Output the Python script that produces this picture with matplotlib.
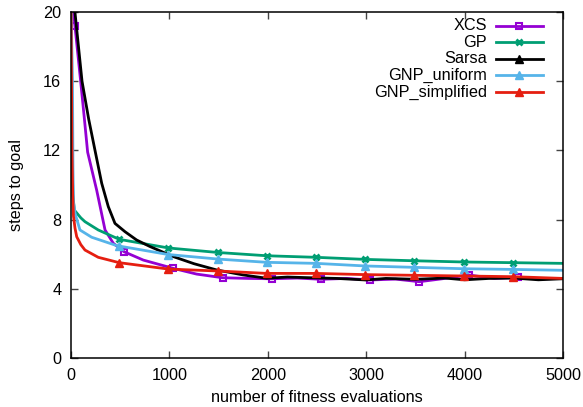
import matplotlib

matplotlib.use("Agg")
import matplotlib.pyplot as plt
from matplotlib.lines import Line2D

plt.rcParams["font.family"] = ["Liberation Sans", "DejaVu Sans"]
plt.rcParams["font.size"] = 11.7

# data
xcs_x = [0, 40, 98, 133, 169, 261, 346, 430, 540, 735, 1040, 1277, 1540, 1800, 2040,
         2300, 2540, 2800, 3040, 3300, 3540, 3800, 4040, 4300, 4540, 4800, 5000]
xcs_y = [21.5, 19.2, 16.0, 14.0, 11.9, 9.7, 7.4, 6.63, 6.14, 5.66, 5.18, 4.85, 4.64, 4.60, 4.58,
         4.62, 4.55, 4.60, 4.51, 4.56, 4.41, 4.60, 4.80, 4.60, 4.66, 4.58, 4.60]
xcs_marks = [40, 540, 1040, 1540, 2040, 2540, 3040, 3540, 4040, 4540]

gp_x = [0, 5, 10, 20, 34, 100, 142, 277, 490, 990, 1490, 1990, 2490, 2990, 3490, 3990, 4490, 5000]
gp_y = [20.5, 15.0, 11.5, 9.4, 8.55, 8.1, 7.88, 7.4, 6.86, 6.36, 6.10, 5.91, 5.82, 5.70, 5.62, 5.55, 5.51, 5.47]

sarsa_x = [0, 40, 112, 180, 244, 312, 379, 447, 549, 667, 800, 1040, 1250, 1480, 1750, 1988, 2200,
           2429, 2700, 2995, 3200, 3500, 3800, 4000, 4250, 4500, 4750, 5000]
sarsa_y = [22.2, 20.0, 16.0, 13.8, 12.0, 10.1, 8.75, 7.78, 7.30, 6.82, 6.45, 5.86, 5.45, 5.09, 4.80, 4.61, 4.68,
           4.64, 4.60, 4.51, 4.60, 4.55, 4.62, 4.52, 4.60, 4.62, 4.52, 4.58]

uni_x = [0, 15, 20, 25, 41, 91, 210, 447, 490, 990, 1490, 1990, 2490, 2990, 3490, 3990, 4490, 5000]
uni_y = [20.5, 16.0, 11.0, 9.0, 8.36, 7.4, 6.98, 6.53, 6.47, 5.98, 5.72, 5.53, 5.47, 5.32, 5.24, 5.16, 5.12, 5.07]

simp_x = [0, 10, 17, 25, 41, 58, 100, 142, 277, 490, 990, 1490, 1990, 2490, 2990, 3490, 3990, 4490, 5000]
simp_y = [20.5, 12.0, 9.5, 8.2, 7.5, 7.01, 6.55, 6.24, 5.82, 5.51, 5.14, 5.03, 4.89, 4.89, 4.82, 4.78, 4.74, 4.70, 4.60]

common_marks = [490, 990, 1490, 1990, 2490, 2990, 3490, 3990, 4490]

series = [
    ("XCS", xcs_x, xcs_y, xcs_marks, "#9400d3", "s"),
    ("GP", gp_x, gp_y, common_marks, "#009e73", "x"),
    ("Sarsa", sarsa_x, sarsa_y, [], "black", "^"),
    ("GNP_uniform", uni_x, uni_y, common_marks, "#56b4e9", "^"),
    ("GNP_simplified", simp_x, simp_y, common_marks, "#e51e10", "^"),
]


def marker_style(marker, color):
    if marker == "s":
        return dict(marker="s", markersize=5, markerfacecolor="none",
                    markeredgecolor=color, markeredgewidth=1.5)
    if marker == "x":
        return dict(marker="x", markersize=4.8, markeredgecolor=color, markeredgewidth=2.0)
    return dict(marker="^", markersize=6.3, markerfacecolor=color, markeredgecolor=color)


fig = plt.figure(figsize=(5.83, 4.07), dpi=100)
ax = fig.add_axes([71 / 583, 1 - 358 / 407, 492 / 583, 346 / 407])

for name, xs, ys, marks, color, mk in series:
    ax.plot(xs, ys, color=color, lw=2.0, solid_joinstyle="round")
    if marks:
        my = [ys[xs.index(m)] for m in marks]
        ax.plot(marks, my, linestyle="none", **marker_style(mk, color))

ax.set_xlim(0, 5000)
ax.set_ylim(0, 20)
ax.set_xticks([0, 1000, 2000, 3000, 4000, 5000])
ax.set_yticks([0, 4, 8, 12, 16, 20])
ax.tick_params(direction="in", length=5, width=1, top=True, right=True, pad=7, color="#444444")
for sp in ax.spines.values():
    sp.set_linewidth(1.1)

ax.set_xlabel("number of fitness evaluations", labelpad=5)
ax.set_ylabel("steps to goal", labelpad=14)

# gnuplot style key: right aligned text, sample on the right
for i, (name, xs, ys, marks, color, mk) in enumerate(series):
    yy = 1 - (14 + i * 16.5) / 346
    ax.text((487 - 71) / 492, yy, name, ha="right", va="center", transform=ax.transAxes)
    ax.add_line(Line2D([(496 - 71) / 492, (543 - 71) / 492], [yy, yy], color=color, lw=2.0,
                       transform=ax.transAxes))
    ax.add_line(Line2D([(519 - 71) / 492], [yy], color=color, transform=ax.transAxes,
                       linestyle="none", **marker_style(mk, color)))

fig.savefig("out.png", dpi=100)
